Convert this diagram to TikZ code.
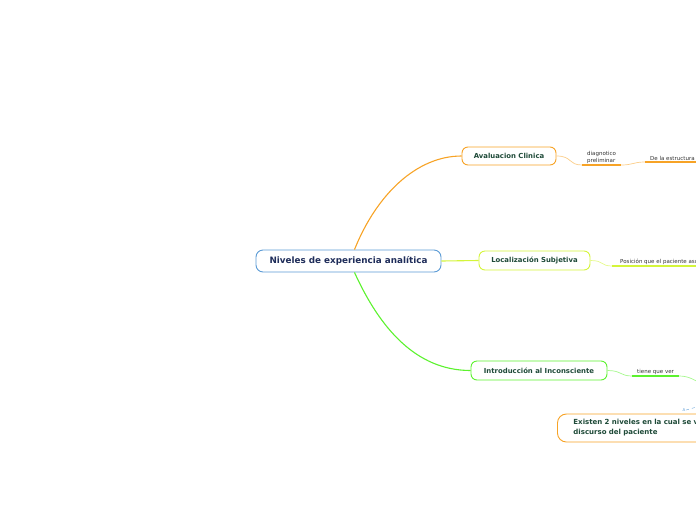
\documentclass[tikz,border=0pt]{standalone}
\usepackage{fontspec}
\setmainfont{DejaVu Sans}
\usepackage{xcolor}
\usetikzlibrary{positioning, arrows.meta, calc}
\definecolor{rootblue}{HTML}{5B9BD5}
\definecolor{rootink}{HTML}{1F2D5A}
\definecolor{topicink}{HTML}{1E4A38}
\definecolor{leafink}{HTML}{333333}
\definecolor{mmorange}{HTML}{F7A326}
\definecolor{mmlime}{HTML}{D4F53A}
\definecolor{mmgreen}{HTML}{5CF22E}

\begin{document}
\begin{tikzpicture}[x=1pt, y=-1pt,
    topicbox/.style={draw, line width=0.9pt, rounded corners=6pt, fill=white,
      text=topicink, font=\bfseries\fontsize{6.9}{8}\selectfont,
      minimum height=18pt, inner xsep=6pt},
    leaf/.style={anchor=south west, text=leafink, inner xsep=5pt, inner ysep=1.5pt,
      font=\fontsize{5.5}{6.5}\selectfont, align=left},
    branch/.style={line width=1.1pt},
    twig/.style={line width=0.7pt}]
  \useasboundingbox (0,0) rectangle (696,520);
  \clip (0,0) rectangle (696,520);

  % central topic
  \node[draw=rootblue, line width=0.9pt, rounded corners=7pt, fill=white,
        text=rootink, font=\bfseries\fontsize{8.8}{10}\selectfont,
        minimum width=185pt, minimum height=22pt, inner xsep=4pt] (root) at (348.5,261)
        {Niveles de experiencia analítica};

  % main topics
  \node[topicbox, draw=mmorange, minimum width=94pt] (ava) at (509,156) {Avaluacion Clinica};
  \node[topicbox, draw=mmlime, minimum width=111pt, minimum height=19pt] (loc) at (534.5,260.5) {Localización Subjetiva};
  \node[topicbox, draw=mmgreen, minimum width=136pt, minimum height=19pt] (intro) at (539,370.5) {Introducción al Inconsciente};
  \node[topicbox, draw=mmorange, rounded corners=9pt, anchor=west, align=left,
        minimum height=28pt, inner xsep=16pt, text width=190pt,
        font=\bfseries\fontsize{7}{10}\selectfont] (existen) at (557,428)
        {Existen 2 niveles en la cual se ve el\\discurso del paciente};

  % leaves
  \node[leaf] (diag) at (582,165) {diagnotico\\preliminar};
  \node[leaf] (estr) at (645,162) {De la estructura};
  \node[leaf, inner xsep=8pt] (pos) at (612,266) {Posición que el paciente asume};
  \node[leaf] (tiene) at (632,376) {tiene que ver};
  \coordinate (offright) at (702,384);
  \node[text=rootblue, font=\fontsize{4}{5}\selectfont, inner sep=0.5pt] (rel) at (684,410) {A};

  % branches
  \draw[branch, mmorange] ([xshift=6pt]root.north) .. controls +(22,-55) and +(-45,0) .. (ava.west);
  \draw[branch, mmlime] (root.east) -- (loc.west);
  \draw[branch, mmgreen] ([xshift=6pt]root.south) .. controls +(25,55) and +(-55,0) .. (intro.west);

  % twigs
  \draw[twig, mmorange!55] (ava.east) .. controls +(16,0) and +(-14,0) .. (diag.south west);
  \draw[line width=1.4pt, mmorange] (diag.south west) -- (diag.south east);
  \draw[twig, mmorange!55] (diag.south east) .. controls +(12,0) and +(-12,0) .. (estr.south west);
  \draw[line width=1.4pt, mmorange] (estr.south west) -- ([xshift=20pt]estr.south east);

  \draw[twig, mmlime!60] (loc.east) .. controls +(14,0) and +(-12,0) .. (pos.south west);
  \draw[line width=1.4pt, mmlime] (pos.south west) -- ([xshift=20pt]pos.south east);

  \draw[twig, mmgreen!55] (intro.east) .. controls +(14,0) and +(-12,0) .. (tiene.south west);
  \draw[line width=1.4pt, mmgreen] (tiene.south west) -- (tiene.south east);
  \draw[twig, mmgreen!55] (tiene.south east) .. controls +(10,0) and +(-8,-4) .. (offright);

  \draw[rootblue, line width=0.4pt, dashed] (rel.east) -- ++(14,-4);
\end{tikzpicture}
\end{document}
